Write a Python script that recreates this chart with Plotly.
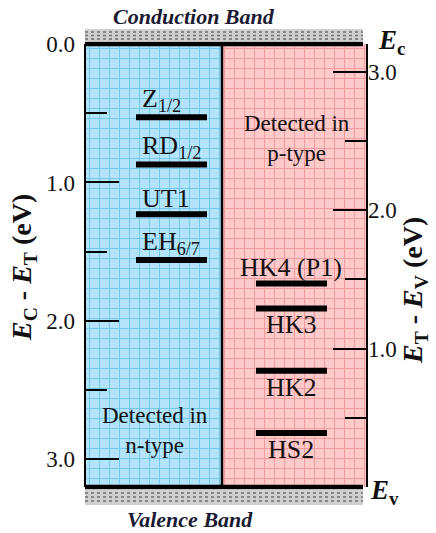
import plotly.graph_objects as go

# ---------------- data ----------------
band_gap = 3.2                      # eV (Ec - Ev)
n_names = ["Z<sub>1/2</sub>", "RD<sub>1/2</sub>", "UT1", "EH<sub>6/7</sub>"]
n_levels = [0.53, 0.87, 1.23, 1.56]          # Ec - Et (eV)
p_names = ["HK4 (P1)", "HK3", "HK2", "HS2"]
p_levels = [1.47, 1.29, 0.84, 0.39]          # Et - Ev (eV)
p_label_side = ["above", "below", "below", "below"]
left_ticks = [0.0, 1.0, 2.0, 3.0]
left_minor = [0.5, 1.5, 2.5]
right_ticks = [1.0, 2.0, 3.0]
right_minor = [0.5, 1.5, 2.5]

# ---------------- layout geometry (pixels) ----------------
W, H = 436, 533
ML, MR, MT, MB = 85, 69, 28, 28
PW = W - ML - MR          # 282
PH = H - MT - MB          # 477
def fx(x):  # pixel x -> paper
    return (x - ML) / PW
def fy(y):  # pixel y -> paper
    return (H - MB - y) / PH

TOP, BOT = 44, 487
SPLIT = 222
dom_y = [fy(BOT), fy(TOP)]
SERIF = "Liberation Serif, Times New Roman, serif"

BLUE_BG = "#b3e4fa"
BLUE_GRID = "#72c8ee"
PINK_BG = "#fecaca"
PINK_GRID = "#f29a9e"

fig = go.Figure()

# empty traces so that the graph-paper grid subplots are drawn
fig.add_trace(go.Scatter(x=[], y=[], xaxis="x", yaxis="y", showlegend=False))
fig.add_trace(go.Scatter(x=[], y=[], xaxis="x2", yaxis="y2", showlegend=False))

# level lines (n-type, left axis)
for name, v in zip(n_names, n_levels):
    fig.add_trace(go.Scatter(x=[fx(136), fx(207)], y=[v, v], mode="lines",
                             line=dict(color="black", width=6),
                             xaxis="x3", yaxis="y3", showlegend=False,
                             hoverinfo="skip"))
# level lines (p-type, right axis)
for name, v in zip(p_names, p_levels):
    fig.add_trace(go.Scatter(x=[fx(256), fx(327)], y=[v, v], mode="lines",
                             line=dict(color="black", width=6),
                             xaxis="x3", yaxis="y4", showlegend=False,
                             hoverinfo="skip"))

annotations = []
for name, v in zip(n_names, n_levels):
    annotations.append(dict(x=fx(140), y=v, xref="x3", yref="y3", text=name,
                            showarrow=False, xanchor="left", yanchor="bottom",
                            yshift=-1, font=dict(family=SERIF, size=26, color="#111")))
for name, v, side in zip(p_names, p_levels, p_label_side):
    annotations.append(dict(x=fx(291), y=v, xref="x3", yref="y4", text=name,
                            showarrow=False, xanchor="center",
                            yanchor="bottom" if side == "above" else "top",
                            yshift=0,
                            font=dict(family=SERIF, size=26, color="#111")))

def pa(x, y, text, size, xanchor="center", angle=0, color="#111"):
    return dict(x=fx(x), y=fy(y), xref="paper", yref="paper", text=text,
                showarrow=False, xanchor=xanchor, yanchor="middle", textangle=angle,
                font=dict(family=SERIF, size=size, color=color))

annotations += [
    pa(297, 139, "Detected in<br>p-type", 23),
    pa(155, 430, "Detected in<br>n-type", 23),
    pa(194, 16, "<b><i>Conduction Band</i></b>", 22, color="#1a1a33"),
    pa(190, 519, "<b><i>Valence Band</i></b>", 22, color="#1a1a33"),
    pa(376, 42, "<b><i>E</i><sub>c</sub></b>", 27, xanchor="left"),
    pa(368, 492, "<b><i>E</i><sub>v</sub></b>", 27, xanchor="left"),
    pa(23, 268, "<b><i>E</i><sub>C</sub> - <i>E</i><sub>T</sub> (eV)</b>", 28, angle=-90),
    pa(414, 291, "<b><i>E</i><sub>T</sub> - <i>E</i><sub>V</sub> (eV)</b>", 28, angle=-90),
]

shapes = [
    # coloured backgrounds
    dict(type="rect", xref="paper", yref="paper", x0=0, x1=fx(SPLIT),
         y0=dom_y[0], y1=dom_y[1], fillcolor=BLUE_BG, line_width=0, layer="below"),
    dict(type="rect", xref="paper", yref="paper", x0=fx(SPLIT), x1=1,
         y0=dom_y[0], y1=dom_y[1], fillcolor=PINK_BG, line_width=0, layer="below"),
    # hatched bands
    dict(type="rect", xref="paper", yref="paper", x0=0, x1=fx(363),
         y0=fy(41), y1=fy(29), fillcolor="#cfcfcf", line_width=0),
    dict(type="rect", xref="paper", yref="paper", x0=0, x1=fx(363),
         y0=fy(505), y1=fy(490), fillcolor="#cfcfcf", line_width=0),
]
for yy in (32, 35.5, 39):
    shapes.append(dict(type="line", xref="paper", yref="paper", x0=0, x1=fx(363),
                       y0=fy(yy), y1=fy(yy), line=dict(color="#707070", width=1.4, dash="dot")))
for yy in (493, 497, 501):
    shapes.append(dict(type="line", xref="paper", yref="paper", x0=0, x1=fx(363),
                       y0=fy(yy), y1=fy(yy), line=dict(color="#707070", width=1.4, dash="dot")))
shapes += [
    # box borders
    dict(type="line", xref="paper", yref="paper", x0=0, x1=0, y0=dom_y[0], y1=dom_y[1],
         line=dict(color="black", width=2)),
    dict(type="line", xref="paper", yref="paper", x0=fx(SPLIT), x1=fx(SPLIT),
         y0=dom_y[0], y1=dom_y[1], line=dict(color="black", width=2.5)),
    dict(type="line", xref="paper", yref="paper", x0=1, x1=1, y0=dom_y[0], y1=dom_y[1],
         line=dict(color="black", width=2)),
    # Ec / Ev thick lines
    dict(type="line", xref="paper", yref="paper", x0=0, x1=fx(363), y0=fy(TOP), y1=fy(TOP),
         line=dict(color="black", width=4.5)),
    dict(type="line", xref="paper", yref="paper", x0=0, x1=fx(363), y0=fy(BOT), y1=fy(BOT),
         line=dict(color="black", width=4.5)),
]

grid_common = dict(showticklabels=False, ticks="", zeroline=False, showline=False,
                   fixedrange=True, gridwidth=1.2)
tick_font = dict(family=SERIF, size=23, color="#111")

fig.update_layout(
    width=W, height=H,
    margin=dict(l=ML, r=MR, t=MT, b=MB, pad=0),
    paper_bgcolor="white", plot_bgcolor="rgba(0,0,0,0)",
    showlegend=False,
    # grid subplot left (blue)
    xaxis=dict(domain=[0, fx(SPLIT)], range=[-4, SPLIT - ML - 4], dtick=10, tick0=0,
               showgrid=True, gridcolor=BLUE_GRID, anchor="y", **grid_common),
    yaxis=dict(domain=dom_y, range=[BOT - TOP, 0], dtick=10, tick0=4,
               showgrid=True, gridcolor=BLUE_GRID, anchor="x", **grid_common),
    # grid subplot right (pink)
    xaxis2=dict(domain=[fx(SPLIT), 1], range=[-2, ML + PW - SPLIT - 2], dtick=10, tick0=0,
                showgrid=True, gridcolor=PINK_GRID, anchor="y2", **grid_common),
    yaxis2=dict(domain=dom_y, range=[BOT - TOP, 0], dtick=10, tick0=4,
                showgrid=True, gridcolor=PINK_GRID, anchor="x2", **grid_common),
    # data axes
    xaxis3=dict(domain=[0, 1], range=[0, 1], visible=False, anchor="y3", fixedrange=True),
    yaxis3=dict(domain=dom_y, range=[band_gap, 0], anchor="x3", side="left",
                tickmode="array", tickvals=left_ticks,
                ticktext=[f"{t:.1f}" for t in left_ticks],
                ticks="inside", ticklen=34, tickwidth=1.5, tickcolor="black",
                minor=dict(tickmode="array", tickvals=left_minor, ticks="inside",
                           ticklen=22, tickwidth=1.5, tickcolor="black", showgrid=False),
                showgrid=False, zeroline=False, showline=False,
                tickfont=tick_font, ticklabelstandoff=9, fixedrange=True),
    yaxis4=dict(domain=dom_y, range=[0, band_gap], anchor="x3", overlaying="y3", side="right",
                tickmode="array", tickvals=right_ticks,
                ticktext=[f"{t:.1f}" for t in right_ticks],
                ticks="inside", ticklen=34, tickwidth=1.5, tickcolor="black",
                minor=dict(tickmode="array", tickvals=right_minor, ticks="inside",
                           ticklen=22, tickwidth=1.5, tickcolor="black", showgrid=False),
                showgrid=False, zeroline=False, showline=False,
                tickfont=tick_font, ticklabelstandoff=0, fixedrange=True),
    shapes=shapes,
    annotations=annotations,
)

fig.write_html("out.html")
